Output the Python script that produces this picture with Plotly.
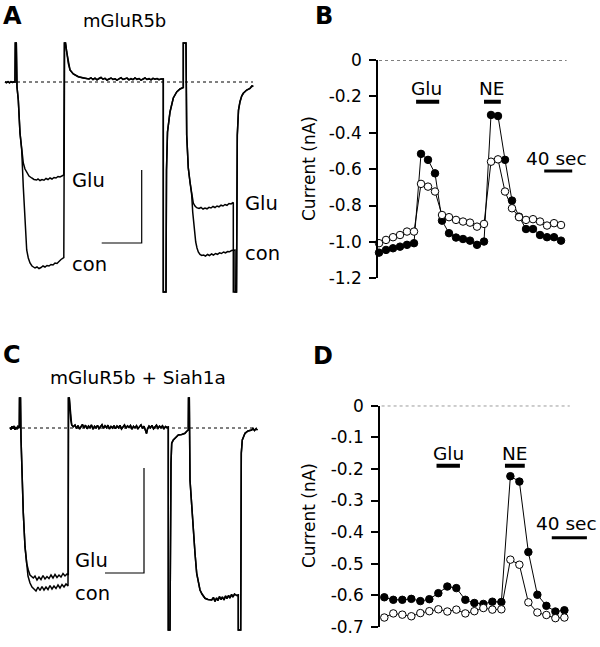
import plotly.graph_objects as go

FONT = "DejaVu Sans"

# ---------------- Panel B data (time in s, current in nA) ----------------
B_T = list(range(0, 270, 10))
B_FILLED = [-1.059, -1.044, -1.035, -1.026, -1.016, -1.007, -0.516, -0.549, -0.623,
            -0.883, -0.952, -0.976, -0.984, -0.993, -1.016, -0.998, -0.302, -0.308,
            -0.549, -0.773, -0.861, -0.929, -0.929, -0.962, -0.974, -0.974, -0.993]
B_OPEN = [-1.007, -0.989, -0.974, -0.962, -0.943, -0.943, -0.681, -0.696, -0.723,
          -0.852, -0.864, -0.879, -0.888, -0.894, -0.916, -0.901, -0.559, -0.546,
          -0.723, -0.815, -0.864, -0.879, -0.875, -0.888, -0.910, -0.897, -0.907]
B_TICKS = [0, -0.2, -0.4, -0.6, -0.8, -1.0, -1.2]
B_TICKTEXT = ["0", "-0.2", "-0.4", "-0.6", "-0.8", "-1.0", "-1.2"]
B_GLU = (53, 86)
B_NE = (150, 174)
B_SCALE = (236, 276)

# ---------------- Panel D data ----------------
D_T = list(range(0, 210, 10))
D_FILLED = [-0.606, -0.614, -0.614, -0.611, -0.618, -0.612, -0.593, -0.572, -0.577,
            -0.614, -0.624, -0.627, -0.620, -0.621, -0.223, -0.240, -0.463, -0.598,
            -0.633, -0.651, -0.647]
D_OPEN = [-0.670, -0.657, -0.661, -0.666, -0.656, -0.650, -0.644, -0.651, -0.645,
          -0.657, -0.650, -0.640, -0.645, -0.644, -0.487, -0.503, -0.622, -0.654,
          -0.662, -0.672, -0.670]
D_TICKS = [0, -0.1, -0.2, -0.3, -0.4, -0.5, -0.6, -0.7]
D_TICKTEXT = ["0", "-0.1", "-0.2", "-0.3", "-0.4", "-0.5", "-0.6", "-0.7"]
D_GLU = (58, 84)
D_NE = (134, 156)
D_SCALE = (186, 225)

# ---------------- Panel A current traces (time, current; arbitrary units) ----------------
A_PRE = [(5, 0), (6.5, -0.6), (8, 0.4), (9.5, -0.8), (11, 0.3), (12.5, -0.5), (14, 0.2), (15, 0),
         (15.3, 39), (16.3, 39), (17, -5), (18.3, -18), (20, -51), (21.7, -68)]
A_GLU1 = [(23.3, -81), (25, -87), (26.7, -90), (29, -94), (31.7, -96), (34, -97.5), (36.7, -98),
          (38, -97), (40, -98.5), (42, -97.5), (44, -98.2), (46, -96.5), (48, -97.5), (50, -96),
          (52, -97), (54, -95.5), (56, -96), (58, -94.5), (60, -95), (62, -93.5), (63.8, -93),
          (64.3, 39)]
A_CON1 = [(23.3, -105), (25, -145), (26.7, -168), (28.3, -176), (30, -181), (32, -184),
          (33.3, -185), (35, -186), (37, -185), (39, -186.5), (41, -185.5), (43, -184),
          (45, -185), (47, -183.5), (49, -184), (51, -182.5), (53, -183), (55, -181),
          (57, -181.5), (59, -179), (61, -177.5), (63.8, -175.5), (64.6, 39)]
A_MID = [(65.5, 39), (66.7, 30), (68.3, 18.7), (70, 12), (73.3, 8), (78.3, 5.3), (83, 4), (86.7, 3.7),
         (89, 3), (91, 4.2), (93, 2.5), (95, 3.8), (97, 2.2), (99, 3.5), (101, 4.5), (103, 2.8),
         (105, 3.6), (107, 2), (109, 3.4), (111, 4), (113, 2.6), (115, 3.2), (117, 1.8), (119, 3.5),
         (121, 4.3), (123, 2.5), (125, 3), (127, 3.9), (129, 2.1), (131, 3.3), (133, 2.4), (135, 4.1),
         (137, 2.7), (139, 3.5), (141, 1.9), (143, 3.2), (145, 4), (147, 2.5), (149, 3.3), (151, 2.2),
         (153, 3.6), (155, 2.8), (157, 3.4), (159, 2.3), (161, 3.1), (163.3, 3),
         (163.3, -210), (166, -210), (166.5, -88), (167.5, -50), (170, -30), (173.3, -16),
         (176.7, -10), (180, -7), (183.3, -5.5), (183.3, 39), (186, 39), (186.7, -53),
         (188.3, -86), (190, -100), (191.7, -113)]
A_GLU2 = [(193.3, -121), (195, -124), (196.7, -125.7), (199, -126.5), (201, -125.5), (203, -127),
          (205, -126), (207, -126.8), (209, -125.3), (211, -126), (213, -124.5), (215, -125.5),
          (217, -124), (219, -124.8), (221, -123.2), (223, -124), (225, -122.5), (227, -123.3),
          (229, -121.5), (231, -122), (233.3, -120.5), (233.3, -210)]
A_CON2 = [(192.7, -130), (194, -146), (195.7, -160), (197, -166), (198.3, -170), (200, -172.5),
          (201.7, -173.5), (203.5, -173), (205.5, -174), (207.5, -172.5), (209.5, -173.5),
          (211.5, -172), (213.5, -173), (215.5, -171.5), (217.5, -172.3), (219.5, -170.8),
          (221.5, -171.5), (223.5, -170), (225.5, -170.8), (227.5, -169.5), (229.5, -169.8),
          (231.5, -168.5), (233.8, -168.2), (235, -168), (235, -210)]
A_POST = [(236.5, -210), (237.3, -53), (238.5, -28), (240, -19.7), (241.7, -14), (243.3, -11.3),
          (246.7, -8), (250, -6.3), (252, -4), (253.3, -4.5)]

# ---------------- Panel C current traces ----------------
C_PRE = [(10, 0.5), (11, -1.5), (12, 1.8), (13, -0.8), (14, 2), (15, -1.8), (16, 1), (17, -1.2),
         (18, 1.5), (19.3, 0), (19.5, 30), (20.5, 30), (21, -10), (21.7, -35), (23.3, -85),
         (25, -118.7), (26.7, -135.3)]
C_GLU1 = [(28.3, -142), (30, -147), (33.3, -150), (35, -148), (37, -152), (39, -149), (41, -151.5),
          (43, -147.5), (45, -151), (47, -148.5), (49, -150.5), (51, -147), (53, -150), (55, -146.5),
          (57, -149.5), (59, -147), (61, -149), (63, -145.5), (65, -148), (67, -146), (68.3, -147),
          (68.3, 30)]
C_CON1 = [(28, -148), (30, -155), (32, -159), (34, -161), (36, -163), (38, -159), (40, -162.5),
          (42, -158.5), (44, -162), (46, -159), (48, -161.5), (50, -157.5), (52, -161), (54, -158),
          (56, -160.5), (58, -157), (60, -160), (62, -156.5), (64, -159), (66, -156), (68, -158),
          (68.6, 30)]
C_MID = [(69.3, 30), (70.7, 8), (71.7, 3), (73.3, 1.3),
         (75, 3), (76.5, -0.5), (78, 2.5), (79.5, -1), (81, 1.5), (82.5, 3.5), (84, 0), (85.5, 2.8),
         (87, -0.8), (88.5, 2), (90, 0.5), (91.5, 3), (93, -1.2), (94.5, 1.8), (96, 0.2), (97.5, 2.6),
         (99, -0.5), (100.5, 1.2), (102, 3.2), (103.5, -0.3), (105, 2.2), (106.5, 0.4), (108, 2.8),
         (109.5, -1), (111, 1.6), (112.5, 0), (114, 2.4), (115.5, -0.6), (117, 1.9), (118.5, 0.3),
         (120, 2.7), (121.5, -0.9), (123, 1.4), (124.5, 3), (126, -0.2), (127.5, 2.1), (129, 0.6),
         (130.5, 2.5), (132, -1.1), (133.5, 1.7), (135, 0.1), (136.5, 2.3), (138, -0.7), (139.5, 1.5),
         (141, 3.1), (142.5, -0.4), (144, 1.8), (145.5, -2.5), (146.5, -5.5), (147.5, -1), (149, 2),
         (150.5, 0.2), (152, 2.6), (153.5, -0.8), (155, 1.3), (156.5, 2.8), (158, -0.3), (159.5, 1.9),
         (161, 0.4), (162.5, 2.2), (164, -0.6), (165.5, 1.5), (167, 0.6), (168.3, 1),
         (168.3, -202), (170, -202), (171, -35), (171.7, -15.3), (173.3, -12), (175, -10.3),
         (178.3, -7), (181.7, -6.5), (185, -5.3), (186.5, -3.5), (188.3, -2), (188.5, 30),
         (189.3, 30), (190, -52), (191.7, -80), (193.3, -102), (195, -125.3), (196.7, -145.3),
         (198.3, -155), (200, -162), (202, -166), (205, -170.3), (208, -171.5), (211.7, -172),
         (213.5, -169.5), (215, -173.5), (216.5, -170), (218, -172.5), (219.5, -168.5), (221, -171.5),
         (222.5, -169), (224, -172), (225.5, -168), (227, -170.5), (228.5, -167.5), (230, -170),
         (231.5, -166.5), (233, -169), (234.5, -166), (236.7, -167.5), (238.3, -167),
         (238.3, -202), (240.7, -202), (241.3, -25), (242.3, -12), (245, -5.3), (248, -3),
         (251.7, -2), (253, -0.5), (254.5, -2.5), (256, -0.8), (257.5, -2)]


def xy(*segments):
    pts = [p for s in segments for p in s]
    return [p[0] for p in pts], [p[1] for p in pts]


W, H = 600, 647


def px(x):
    return x / W


def py(y):
    return 1 - y / H


fig = go.Figure()
black = "black"

# Panel A traces
for segs in [(A_PRE, A_GLU1, A_MID, A_GLU2, A_POST), (A_PRE, A_CON1, A_MID, A_CON2, A_POST)]:
    x, y = xy(*segs)
    fig.add_trace(go.Scatter(x=x, y=y, mode="lines", line=dict(color=black, width=1.5),
                             xaxis="x", yaxis="y", hoverinfo="skip"))

# Panel C traces
for segs in [(C_PRE, C_GLU1, C_MID), (C_PRE, C_CON1, C_MID)]:
    x, y = xy(*segs)
    fig.add_trace(go.Scatter(x=x, y=y, mode="lines", line=dict(color=black, width=1.5),
                             xaxis="x3", yaxis="y3", hoverinfo="skip"))

# Panels B and D
for t, filled, opened, xa, ya in [(B_T, B_FILLED, B_OPEN, "x2", "y2"), (D_T, D_FILLED, D_OPEN, "x4", "y4")]:
    fig.add_trace(go.Scatter(x=t, y=filled, mode="lines+markers", xaxis=xa, yaxis=ya,
                             line=dict(color=black, width=1),
                             marker=dict(size=7.5, color=black, line=dict(color=black, width=1)),
                             cliponaxis=False))
    fig.add_trace(go.Scatter(x=t, y=opened, mode="lines+markers", xaxis=xa, yaxis=ya,
                             line=dict(color=black, width=1),
                             marker=dict(size=7.5, color="white", line=dict(color=black, width=1)),
                             cliponaxis=False))

shapes = []
# baselines (dashed)
shapes.append(dict(type="line", xref="x", yref="y", x0=5, x1=253, y0=0, y1=0,
                   line=dict(color=black, width=1, dash="3px,3px")))
shapes.append(dict(type="line", xref="x3", yref="y3", x0=10, x1=257, y0=0, y1=0,
                   line=dict(color=black, width=1, dash="3px,3px")))
shapes.append(dict(type="line", xref="x2", yref="y2", x0=0, x1=268, y0=0, y1=0,
                   line=dict(color=black, width=1, dash="3px,3px")))
shapes.append(dict(type="line", xref="x4", yref="y4", x0=-3, x1=206, y0=0, y1=0,
                   line=dict(color=black, width=1, dash="3px,3px")))
# scale bars A and C
shapes.append(dict(type="path", xref="x", yref="y", path="M 101.7 -161 L 141.7 -161 L 141.7 -88",
                   line=dict(color=black, width=1.2)))
shapes.append(dict(type="path", xref="x3", yref="y3", path="M 105 -145 L 144 -145 L 144 -40",
                   line=dict(color=black, width=1.2)))
# stimulus bars and time bars
for xr, yr, (a, b), yv, wd in [("x2", "y2", B_GLU, -0.229, 4), ("x2", "y2", B_NE, -0.229, 4),
                               ("x2", "y2", B_SCALE, -0.61, 3),
                               ("x4", "y4", D_GLU, -0.19, 4), ("x4", "y4", D_NE, -0.19, 4),
                               ("x4", "y4", D_SCALE, -0.418, 3)]:
    shapes.append(dict(type="line", xref=xr, yref=yr, x0=a, x1=b, y0=yv, y1=yv,
                       line=dict(color=black, width=wd)))

ann = []
def text(s, x, y, xref="paper", yref="paper", size=18, xanchor="center", bold=False, angle=0,
         yanchor="middle"):
    ann.append(dict(text=("<b>%s</b>" % s) if bold else s, x=x, y=y, xref=xref, yref=yref,
                    showarrow=False, xanchor=xanchor, yanchor=yanchor, textangle=angle,
                    font=dict(family=FONT, size=size, color=black)))

# panel letters
text("A", px(12), 1.0, size=24, bold=True, yanchor="top")
text("B", px(324), 1.0, size=24, bold=True, yanchor="top")
text("C", px(12), py(355), size=24, bold=True)
text("D", px(323), py(356), size=24, bold=True)
# titles
text("mGluR5b", px(124), py(21), size=18)
text("mGluR5b + Siah1a", px(138), py(377), size=18.5)
# trace labels
text("Glu", 70, -99, "x", "y", size=19.5, xanchor="left")
text("con", 70, -182, "x", "y", size=19.5, xanchor="left")
text("Glu", 243, -122, "x", "y", size=19.5, xanchor="left")
text("con", 243, -172, "x", "y", size=19.5, xanchor="left")
text("Glu", 73, -132, "x3", "y3", size=19.5, xanchor="left")
text("con", 73, -165, "x3", "y3", size=19.5, xanchor="left")
# B annotations
text("Glu", 68, -0.158, "x2", "y2", size=18.5)
text("NE", 162, -0.158, "x2", "y2", size=18.5)
text("40 sec", 254, -0.542, "x2", "y2", size=18.5)
# D annotations
text("Glu", 71, -0.152, "x4", "y4", size=18.5)
text("NE", 145, -0.152, "x4", "y4", size=18.5)
text("40 sec", 202, -0.374, "x4", "y4", size=18.5)
# axis titles
text("Current (nA)", px(309), py(169), size=17, angle=-90)
text("Current (nA)", px(309), py(516), size=17, angle=-90)

hidden = dict(visible=False, showgrid=False, zeroline=False, automargin=False)
yax_common = dict(showline=True, linecolor=black, linewidth=1.5, ticks="outside", ticklen=7,
                  tickwidth=1.5, tickcolor=black, showgrid=False, zeroline=False, automargin=False,
                  tickfont=dict(family=FONT, size=17, color=black), ticklabelstandoff=4)

fig.update_layout(
    template="none",
    width=W, height=H, margin=dict(l=0, r=0, t=0, b=0, pad=0, autoexpand=False),
    paper_bgcolor="white", plot_bgcolor="white", showlegend=False,
    xaxis=dict(domain=[0, px(290)], range=[0, 290], **hidden),
    yaxis=dict(domain=[py(300), py(35)], range=[-218, 47], **hidden),
    xaxis3=dict(domain=[0, px(290)], range=[0, 290], **hidden),
    yaxis3=dict(domain=[py(640), py(390)], range=[-212, 38], **hidden),
    xaxis2=dict(domain=[px(378), px(590)], range=[-1.43, 301.4], **hidden),
    yaxis2=dict(domain=[py(278.3), py(60)], range=[-1.2, 0], tickvals=B_TICKS,
                ticktext=B_TICKTEXT, anchor="x2", **yax_common),
    xaxis4=dict(domain=[px(380), px(595)], range=[-4.78, 234], **hidden),
    yaxis4=dict(domain=[py(627), py(405.7)], range=[-0.7, 0], tickvals=D_TICKS,
                ticktext=D_TICKTEXT, anchor="x4", **yax_common),
    shapes=shapes, annotations=ann,
)

POST = ("document.documentElement.style.margin='0';document.documentElement.style.overflow='hidden';"
        "document.body.style.margin='0';document.body.style.padding='0';document.body.style.overflow='hidden';"
        "var g=document.getElementById('{plot_id}');g.style.position='absolute';g.style.left='0px';g.style.top='0px';")

fig.write_html("out.html", config={"displayModeBar": False}, post_script=POST)
